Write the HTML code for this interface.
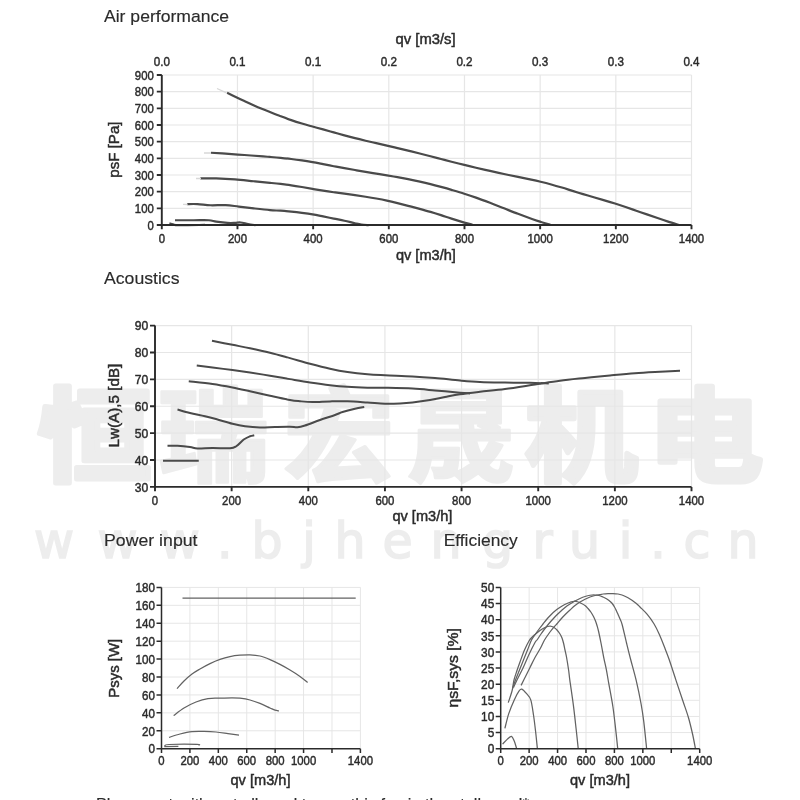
<!DOCTYPE html>
<html lang="en"><head><meta charset="utf-8"><title>Fan curves</title>
<style>html,body{margin:0;padding:0;background:#fff}body{width:800px;height:800px;overflow:hidden}svg{display:block}text{font-family:'Liberation Sans', sans-serif}.wm{font-family:'Liberation Sans','Noto Sans CJK SC',sans-serif;font-weight:700}.wu{font-family:'DejaVu Sans','Liberation Sans',sans-serif}</style></head><body>
<svg width="800" height="800" viewBox="0 0 800 800">
<rect width="800" height="800" fill="#fff"/><g opacity="0.999">
<text class="wm" y="473.6" font-size="103" fill="#ededed" stroke="#ededed" stroke-linejoin="round"><tspan x="37.4" textLength="114.4" lengthAdjust="spacingAndGlyphs" stroke-width="5">恒</tspan><tspan x="157.4" textLength="112.0" lengthAdjust="spacingAndGlyphs" stroke-width="2.5">瑞</tspan><tspan x="282.7" textLength="112.2" lengthAdjust="spacingAndGlyphs" stroke-width="3">宏</tspan><tspan x="406.0" textLength="109.1" lengthAdjust="spacingAndGlyphs" stroke-width="2.5">晟</tspan><tspan x="524.5" textLength="113.5" lengthAdjust="spacingAndGlyphs" stroke-width="4.5">机</tspan><tspan x="647.4" textLength="115.8" lengthAdjust="spacingAndGlyphs" stroke-width="5">电</tspan></text>
<text class="wu" x="34.0 97.5 159.7 216.9 251.4 302.2 334.5 382.6 430.5 481.9 532.4 569.0 618.7 650.2 683.5 727.5" y="558" font-size="49" fill="#ededed" stroke="#ededed" stroke-width="1.6">www.bjhengrui.cn</text>
<text x="104" y="22.3" font-size="17" textLength="125" lengthAdjust="spacingAndGlyphs" fill="#2b2b2b" stroke="#2b2b2b" stroke-width="0.15">Air performance</text>
<text x="104" y="284.4" font-size="17" textLength="75.5" lengthAdjust="spacingAndGlyphs" fill="#2b2b2b" stroke="#2b2b2b" stroke-width="0.15">Acoustics</text>
<text x="104" y="545.7" font-size="17" textLength="93.5" lengthAdjust="spacingAndGlyphs" fill="#2b2b2b" stroke="#2b2b2b" stroke-width="0.15">Power input</text>
<text x="443.7" y="545.7" font-size="17" textLength="74" lengthAdjust="spacingAndGlyphs" fill="#2b2b2b" stroke="#2b2b2b" stroke-width="0.15">Efficiency</text>
<path d="M237.47,75.00V225.00M313.14,75.00V225.00M388.81,75.00V225.00M464.49,75.00V225.00M540.16,75.00V225.00M615.83,75.00V225.00M691.50,75.00V225.00M161.80,208.33H691.50M161.80,191.67H691.50M161.80,175.00H691.50M161.80,158.33H691.50M161.80,141.67H691.50M161.80,125.00H691.50M161.80,108.33H691.50M161.80,91.67H691.50M161.80,75.00H691.50" stroke="#e6e6e6" stroke-width="1.2" fill="none"/>
<path d="M227.10,92.75 C228.62,93.49 233.37,95.79 236.25,97.17 C239.13,98.55 241.53,99.69 244.40,101.02 C247.28,102.35 250.38,103.79 253.50,105.17 C256.62,106.55 260.35,108.14 263.10,109.30 C265.85,110.45 267.08,110.94 270.00,112.09 C272.92,113.24 277.06,114.88 280.60,116.22 C284.14,117.55 287.70,118.89 291.25,120.11 C294.80,121.33 298.36,122.46 301.90,123.54 C305.44,124.61 308.97,125.56 312.50,126.54 C316.03,127.52 319.56,128.44 323.10,129.41 C326.64,130.38 330.20,131.38 333.75,132.37 C337.30,133.35 340.86,134.38 344.40,135.34 C347.94,136.30 351.47,137.24 355.00,138.13 C358.53,139.03 362.06,139.87 365.60,140.71 C369.14,141.55 372.70,142.36 376.25,143.18 C379.80,144.00 383.36,144.81 386.90,145.63 C390.44,146.45 393.97,147.26 397.50,148.09 C401.03,148.92 404.56,149.74 408.10,150.60 C411.64,151.46 415.02,152.30 418.75,153.24 C422.48,154.18 426.79,155.31 430.50,156.27 C434.21,157.23 437.50,158.11 441.00,159.01 C444.50,159.92 447.62,160.74 451.50,161.73 C455.38,162.71 460.22,163.93 464.30,164.93 C468.38,165.93 471.72,166.73 476.00,167.73 C480.28,168.73 485.33,169.88 490.00,170.92 C494.67,171.96 499.33,172.97 504.00,173.98 C508.67,174.98 513.67,176.02 518.00,176.93 C522.33,177.84 526.23,178.62 530.00,179.43 C533.77,180.23 537.06,180.93 540.60,181.78 C544.14,182.62 547.70,183.52 551.25,184.48 C554.80,185.45 558.36,186.50 561.90,187.57 C565.44,188.63 568.97,189.77 572.50,190.86 C576.03,191.96 579.56,193.07 583.10,194.14 C586.64,195.21 590.20,196.24 593.75,197.27 C597.30,198.31 600.86,199.29 604.40,200.34 C607.94,201.39 611.47,202.45 615.00,203.57 C618.53,204.69 622.06,205.87 625.60,207.06 C629.14,208.24 632.70,209.48 636.25,210.70 C639.80,211.92 643.36,213.15 646.90,214.38 C650.44,215.61 653.97,216.86 657.50,218.06 C661.03,219.26 664.56,220.45 668.10,221.59 C671.64,222.73 676.98,224.35 678.75,224.90" stroke="#4a4a4a" stroke-width="2.2" fill="none" stroke-linejoin="round"/>
<path d="M211.00,152.75 C213.43,152.90 220.03,153.30 225.60,153.68 C231.17,154.05 238.15,154.56 244.40,155.02 C250.65,155.48 258.83,156.10 263.10,156.42 C267.37,156.74 267.08,156.70 270.00,156.94 C272.92,157.17 277.06,157.49 280.60,157.83 C284.14,158.18 287.70,158.56 291.25,158.99 C294.80,159.43 298.36,159.92 301.90,160.45 C305.44,160.99 308.97,161.58 312.50,162.20 C316.03,162.82 319.56,163.51 323.10,164.18 C326.64,164.85 330.20,165.55 333.75,166.22 C337.30,166.89 340.86,167.54 344.40,168.18 C347.94,168.81 351.47,169.43 355.00,170.04 C358.53,170.65 362.06,171.25 365.60,171.85 C369.14,172.45 372.70,173.04 376.25,173.64 C379.80,174.23 383.36,174.81 386.90,175.40 C390.44,175.99 393.97,176.57 397.50,177.19 C401.03,177.81 404.56,178.42 408.10,179.11 C411.64,179.80 415.02,180.48 418.75,181.32 C422.48,182.15 426.79,183.19 430.50,184.12 C434.21,185.05 437.50,185.95 441.00,186.91 C444.50,187.87 447.62,188.73 451.50,189.86 C455.38,191.00 460.22,192.41 464.30,193.70 C468.38,194.99 471.72,196.09 476.00,197.62 C480.28,199.14 485.33,201.05 490.00,202.83 C494.67,204.62 499.33,206.51 504.00,208.34 C508.67,210.17 513.33,212.05 518.00,213.82 C522.67,215.60 527.92,217.55 532.00,218.99 C536.08,220.42 539.43,221.48 542.50,222.43 C545.57,223.38 549.08,224.32 550.40,224.70" stroke="#4a4a4a" stroke-width="2.2" fill="none" stroke-linejoin="round"/>
<path d="M200.30,178.40 C202.96,178.40 210.47,178.23 216.25,178.40 C222.03,178.57 228.75,178.93 235.00,179.40 C241.25,179.88 247.92,180.68 253.75,181.25 C259.58,181.82 265.52,182.38 270.00,182.83 C274.48,183.28 277.06,183.53 280.60,183.95 C284.14,184.37 287.70,184.82 291.25,185.33 C294.80,185.84 298.36,186.42 301.90,187.00 C305.44,187.59 308.97,188.24 312.50,188.85 C316.03,189.46 319.56,190.09 323.10,190.66 C326.64,191.22 330.20,191.74 333.75,192.24 C337.30,192.73 340.86,193.16 344.40,193.64 C347.94,194.12 351.47,194.59 355.00,195.10 C358.53,195.61 362.06,196.15 365.60,196.72 C369.14,197.29 372.70,197.88 376.25,198.53 C379.80,199.19 383.36,199.88 386.90,200.65 C390.44,201.41 393.97,202.26 397.50,203.12 C401.03,203.99 404.56,204.91 408.10,205.82 C411.64,206.74 415.02,207.60 418.75,208.61 C422.48,209.62 426.79,210.79 430.50,211.89 C434.21,212.98 437.50,214.04 441.00,215.17 C444.50,216.29 447.62,217.41 451.50,218.64 C455.38,219.88 460.80,221.56 464.30,222.57 C467.80,223.58 471.13,224.35 472.50,224.70" stroke="#4a4a4a" stroke-width="2.2" fill="none" stroke-linejoin="round"/>
<path d="M187.20,204.10 C188.92,204.10 193.60,203.91 197.50,204.10 C201.40,204.29 205.92,205.08 210.60,205.25 C215.28,205.42 220.91,204.88 225.60,205.10 C230.29,205.32 234.06,206.05 238.75,206.60 C243.44,207.15 248.54,207.82 253.75,208.40 C258.96,208.98 265.52,209.72 270.00,210.10 C274.48,210.48 277.06,210.45 280.60,210.70 C284.14,210.95 287.70,211.25 291.25,211.60 C294.80,211.95 298.36,212.35 301.90,212.80 C305.44,213.25 308.97,213.70 312.50,214.30 C316.03,214.90 319.56,215.68 323.10,216.40 C326.64,217.12 330.20,217.88 333.75,218.60 C337.30,219.32 340.86,219.93 344.40,220.70 C347.94,221.47 352.17,222.57 355.00,223.20 C357.83,223.83 359.10,224.17 361.40,224.50 C363.70,224.83 367.57,225.08 368.80,225.20" stroke="#4a4a4a" stroke-width="2.2" fill="none" stroke-linejoin="round"/>
<path d="M175.00,220.25 C178.12,220.25 188.12,220.25 193.75,220.25 C199.38,220.25 205.00,220.03 208.75,220.25 C212.50,220.47 213.12,221.16 216.25,221.60 C219.38,222.04 224.38,222.68 227.50,222.90 C230.62,223.12 232.82,222.97 235.00,222.90 C237.18,222.83 238.42,222.32 240.60,222.50 C242.78,222.68 245.60,223.55 248.10,224.00 C250.60,224.45 254.35,225.00 255.60,225.20" stroke="#4a4a4a" stroke-width="2.2" fill="none" stroke-linejoin="round"/>
<path d="M169.40,223.40 C170.02,223.57 171.54,224.10 173.10,224.40 C174.66,224.70 173.43,225.12 178.75,225.20 C184.07,225.28 200.62,224.95 205.00,224.90" stroke="#4a4a4a" stroke-width="2.2" fill="none" stroke-linejoin="round"/>
<path d="M217,88.5L226.5,92.8M204,153H211M196,178.5h5M183,204.3l4.5,.2" stroke="#d8d8d8" stroke-width="1.3" fill="none"/>
<path d="M161.80,75.00V229.30M156.80,225.00H691.50M237.47,225.00v4.3M313.14,225.00v4.3M388.81,225.00v4.3M464.49,225.00v4.3M540.16,225.00v4.3M615.83,225.00v4.3M691.50,225.00v4.3M161.80,208.33h-5M161.80,191.67h-5M161.80,175.00h-5M161.80,158.33h-5M161.80,141.67h-5M161.80,125.00h-5M161.80,108.33h-5M161.80,91.67h-5M161.80,75.00h-5" stroke="#2b2b2b" stroke-width="1.9" fill="none"/>
<text x="153.8" y="229.7" font-size="13" text-anchor="end" textLength="6.3" lengthAdjust="spacingAndGlyphs" fill="#2b2b2b" stroke="#2b2b2b" stroke-width="0.45">0</text>
<text x="153.8" y="213.0" font-size="13" text-anchor="end" textLength="19.0" lengthAdjust="spacingAndGlyphs" fill="#2b2b2b" stroke="#2b2b2b" stroke-width="0.45">100</text>
<text x="153.8" y="196.4" font-size="13" text-anchor="end" textLength="19.0" lengthAdjust="spacingAndGlyphs" fill="#2b2b2b" stroke="#2b2b2b" stroke-width="0.45">200</text>
<text x="153.8" y="179.7" font-size="13" text-anchor="end" textLength="19.0" lengthAdjust="spacingAndGlyphs" fill="#2b2b2b" stroke="#2b2b2b" stroke-width="0.45">300</text>
<text x="153.8" y="163.0" font-size="13" text-anchor="end" textLength="19.0" lengthAdjust="spacingAndGlyphs" fill="#2b2b2b" stroke="#2b2b2b" stroke-width="0.45">400</text>
<text x="153.8" y="146.4" font-size="13" text-anchor="end" textLength="19.0" lengthAdjust="spacingAndGlyphs" fill="#2b2b2b" stroke="#2b2b2b" stroke-width="0.45">500</text>
<text x="153.8" y="129.7" font-size="13" text-anchor="end" textLength="19.0" lengthAdjust="spacingAndGlyphs" fill="#2b2b2b" stroke="#2b2b2b" stroke-width="0.45">600</text>
<text x="153.8" y="113.0" font-size="13" text-anchor="end" textLength="19.0" lengthAdjust="spacingAndGlyphs" fill="#2b2b2b" stroke="#2b2b2b" stroke-width="0.45">700</text>
<text x="153.8" y="96.4" font-size="13" text-anchor="end" textLength="19.0" lengthAdjust="spacingAndGlyphs" fill="#2b2b2b" stroke="#2b2b2b" stroke-width="0.45">800</text>
<text x="153.8" y="79.7" font-size="13" text-anchor="end" textLength="19.0" lengthAdjust="spacingAndGlyphs" fill="#2b2b2b" stroke="#2b2b2b" stroke-width="0.45">900</text>
<text x="161.8" y="242.7" font-size="13" text-anchor="middle" textLength="6.3" lengthAdjust="spacingAndGlyphs" fill="#2b2b2b" stroke="#2b2b2b" stroke-width="0.45">0</text>
<text x="237.5" y="242.7" font-size="13" text-anchor="middle" textLength="19.0" lengthAdjust="spacingAndGlyphs" fill="#2b2b2b" stroke="#2b2b2b" stroke-width="0.45">200</text>
<text x="313.1" y="242.7" font-size="13" text-anchor="middle" textLength="19.0" lengthAdjust="spacingAndGlyphs" fill="#2b2b2b" stroke="#2b2b2b" stroke-width="0.45">400</text>
<text x="388.8" y="242.7" font-size="13" text-anchor="middle" textLength="19.0" lengthAdjust="spacingAndGlyphs" fill="#2b2b2b" stroke="#2b2b2b" stroke-width="0.45">600</text>
<text x="464.5" y="242.7" font-size="13" text-anchor="middle" textLength="19.0" lengthAdjust="spacingAndGlyphs" fill="#2b2b2b" stroke="#2b2b2b" stroke-width="0.45">800</text>
<text x="540.2" y="242.7" font-size="13" text-anchor="middle" textLength="25.4" lengthAdjust="spacingAndGlyphs" fill="#2b2b2b" stroke="#2b2b2b" stroke-width="0.45">1000</text>
<text x="615.8" y="242.7" font-size="13" text-anchor="middle" textLength="25.4" lengthAdjust="spacingAndGlyphs" fill="#2b2b2b" stroke="#2b2b2b" stroke-width="0.45">1200</text>
<text x="691.5" y="242.7" font-size="13" text-anchor="middle" textLength="25.4" lengthAdjust="spacingAndGlyphs" fill="#2b2b2b" stroke="#2b2b2b" stroke-width="0.45">1400</text>
<text x="161.8" y="65.8" font-size="13" text-anchor="middle" textLength="16.2" lengthAdjust="spacingAndGlyphs" fill="#2b2b2b" stroke="#2b2b2b" stroke-width="0.45">0.0</text>
<text x="237.5" y="65.8" font-size="13" text-anchor="middle" textLength="16.2" lengthAdjust="spacingAndGlyphs" fill="#2b2b2b" stroke="#2b2b2b" stroke-width="0.45">0.1</text>
<text x="313.1" y="65.8" font-size="13" text-anchor="middle" textLength="16.2" lengthAdjust="spacingAndGlyphs" fill="#2b2b2b" stroke="#2b2b2b" stroke-width="0.45">0.1</text>
<text x="388.8" y="65.8" font-size="13" text-anchor="middle" textLength="16.2" lengthAdjust="spacingAndGlyphs" fill="#2b2b2b" stroke="#2b2b2b" stroke-width="0.45">0.2</text>
<text x="464.5" y="65.8" font-size="13" text-anchor="middle" textLength="16.2" lengthAdjust="spacingAndGlyphs" fill="#2b2b2b" stroke="#2b2b2b" stroke-width="0.45">0.2</text>
<text x="540.2" y="65.8" font-size="13" text-anchor="middle" textLength="16.2" lengthAdjust="spacingAndGlyphs" fill="#2b2b2b" stroke="#2b2b2b" stroke-width="0.45">0.3</text>
<text x="615.8" y="65.8" font-size="13" text-anchor="middle" textLength="16.2" lengthAdjust="spacingAndGlyphs" fill="#2b2b2b" stroke="#2b2b2b" stroke-width="0.45">0.3</text>
<text x="691.5" y="65.8" font-size="13" text-anchor="middle" textLength="16.2" lengthAdjust="spacingAndGlyphs" fill="#2b2b2b" stroke="#2b2b2b" stroke-width="0.45">0.4</text>
<text x="425.6" y="44.1" font-size="14" text-anchor="middle" textLength="60" lengthAdjust="spacingAndGlyphs" fill="#2b2b2b" stroke="#2b2b2b" stroke-width="0.45">qv [m3/s]</text>
<text x="425.9" y="259.9" font-size="14" text-anchor="middle" textLength="60" lengthAdjust="spacingAndGlyphs" fill="#2b2b2b" stroke="#2b2b2b" stroke-width="0.45">qv [m3/h]</text>
<text transform="translate(119,149.6) rotate(-90)" font-size="14" text-anchor="middle" textLength="56.3" lengthAdjust="spacingAndGlyphs" fill="#2b2b2b" stroke="#2b2b2b" stroke-width="0.45">psF [Pa]</text>
<path d="M231.64,325.60V486.90M308.29,325.60V486.90M384.93,325.60V486.90M461.57,325.60V486.90M538.21,325.60V486.90M614.86,325.60V486.90M691.50,325.60V486.90M155.00,460.02H691.50M155.00,433.13H691.50M155.00,406.25H691.50M155.00,379.37H691.50M155.00,352.48H691.50M155.00,325.60H691.50" stroke="#e6e6e6" stroke-width="1.2" fill="none"/>
<path d="M212.00,340.75 C215.42,341.43 226.17,343.58 232.50,344.83 C238.83,346.08 243.75,346.93 250.00,348.25 C256.25,349.57 263.33,351.10 270.00,352.75 C276.67,354.40 283.33,356.30 290.00,358.12 C296.67,359.95 303.33,361.94 310.00,363.70 C316.67,365.46 323.75,367.29 330.00,368.67 C336.25,370.05 341.25,371.04 347.50,371.98 C353.75,372.92 361.25,373.75 367.50,374.30 C373.75,374.85 377.50,374.94 385.00,375.29 C392.50,375.65 404.17,375.98 412.50,376.44 C420.83,376.90 427.08,377.39 435.00,378.07 C442.92,378.74 452.50,379.85 460.00,380.50 C467.50,381.15 472.50,381.61 480.00,381.94 C487.50,382.28 496.67,382.38 505.00,382.52 C513.33,382.67 522.71,382.66 530.00,382.81 C537.29,382.95 545.62,383.30 548.75,383.40" stroke="#4a4a4a" stroke-width="2" fill="none" stroke-linejoin="round"/>
<path d="M196.75,365.50 C199.38,365.83 206.54,366.73 212.50,367.49 C218.46,368.26 226.25,369.24 232.50,370.08 C238.75,370.92 243.75,371.60 250.00,372.53 C256.25,373.47 263.33,374.59 270.00,375.69 C276.67,376.79 283.33,378.00 290.00,379.12 C296.67,380.25 303.33,381.43 310.00,382.44 C316.67,383.45 323.75,384.47 330.00,385.20 C336.25,385.93 341.25,386.42 347.50,386.83 C353.75,387.24 361.25,387.50 367.50,387.66 C373.75,387.82 377.50,387.64 385.00,387.80 C392.50,387.96 404.17,388.16 412.50,388.60 C420.83,389.04 427.08,389.74 435.00,390.43 C442.92,391.13 454.17,392.29 460.00,392.79 C465.83,393.28 468.33,393.30 470.00,393.40" stroke="#4a4a4a" stroke-width="2" fill="none" stroke-linejoin="round"/>
<path d="M188.75,381.25 C192.71,381.71 205.21,382.96 212.50,384.00 C219.79,385.04 226.25,386.29 232.50,387.50 C238.75,388.71 243.75,389.88 250.00,391.25 C256.25,392.62 263.33,394.29 270.00,395.75 C276.67,397.21 285.00,399.08 290.00,400.00 C295.00,400.92 296.25,400.92 300.00,401.25 C303.75,401.58 307.50,401.98 312.50,402.00 C317.50,402.02 324.17,401.52 330.00,401.40 C335.83,401.28 341.25,401.12 347.50,401.30 C353.75,401.48 361.25,402.09 367.50,402.50 C373.75,402.91 379.58,403.58 385.00,403.75 C390.42,403.92 395.42,403.71 400.00,403.50 C404.58,403.29 407.50,403.08 412.50,402.50 C417.50,401.92 424.58,400.92 430.00,400.00 C435.42,399.08 440.00,397.96 445.00,397.00 C450.00,396.04 454.17,395.12 460.00,394.25 C465.83,393.38 472.50,392.62 480.00,391.75 C487.50,390.88 495.83,390.21 505.00,389.00 C514.17,387.79 525.83,385.88 535.00,384.50 C544.17,383.12 551.67,381.83 560.00,380.75 C568.33,379.67 576.67,378.88 585.00,378.00 C593.33,377.12 601.67,376.29 610.00,375.50 C618.33,374.71 626.67,373.88 635.00,373.25 C643.33,372.62 652.50,372.17 660.00,371.75 C667.50,371.33 676.67,370.92 680.00,370.75" stroke="#4a4a4a" stroke-width="2" fill="none" stroke-linejoin="round"/>
<path d="M177.50,409.50 C179.58,410.08 185.42,411.88 190.00,413.00 C194.58,414.12 200.42,415.17 205.00,416.25 C209.58,417.33 212.92,418.25 217.50,419.50 C222.08,420.75 227.92,422.62 232.50,423.75 C237.08,424.88 240.42,425.62 245.00,426.25 C249.58,426.88 255.00,427.38 260.00,427.50 C265.00,427.62 270.00,427.12 275.00,427.00 C280.00,426.88 286.25,426.70 290.00,426.75 C293.75,426.80 295.00,427.51 297.50,427.30 C300.00,427.09 301.25,426.72 305.00,425.50 C308.75,424.28 315.00,421.75 320.00,420.00 C325.00,418.25 331.25,416.33 335.00,415.00 C338.75,413.67 339.17,413.04 342.50,412.00 C345.83,410.96 351.38,409.58 355.00,408.75 C358.62,407.92 362.71,407.29 364.25,407.00" stroke="#4a4a4a" stroke-width="2" fill="none" stroke-linejoin="round"/>
<path d="M167.50,445.75 C169.17,445.75 173.75,445.54 177.50,445.75 C181.25,445.96 186.67,446.54 190.00,447.00 C193.33,447.46 193.75,448.33 197.50,448.50 C201.25,448.67 207.08,448.04 212.50,448.00 C217.92,447.96 226.04,448.54 230.00,448.25 C233.96,447.96 233.96,447.71 236.25,446.25 C238.54,444.79 241.46,441.17 243.75,439.50 C246.04,437.83 248.25,436.96 250.00,436.25 C251.75,435.54 253.54,435.42 254.25,435.25" stroke="#4a4a4a" stroke-width="2" fill="none" stroke-linejoin="round"/>
<path d="M163.00,460.75 L198.75,460.75" stroke="#4a4a4a" stroke-width="2" fill="none" stroke-linejoin="round"/>
<path d="M155.00,325.60V491.20M150.00,486.90H691.50M231.64,486.90v4.3M308.29,486.90v4.3M384.93,486.90v4.3M461.57,486.90v4.3M538.21,486.90v4.3M614.86,486.90v4.3M691.50,486.90v4.3M155.00,460.02h-5M155.00,433.13h-5M155.00,406.25h-5M155.00,379.37h-5M155.00,352.48h-5M155.00,325.60h-5" stroke="#2b2b2b" stroke-width="1.9" fill="none"/>
<text x="148.3" y="491.6" font-size="13" text-anchor="end" textLength="13.5" lengthAdjust="spacingAndGlyphs" fill="#2b2b2b" stroke="#2b2b2b" stroke-width="0.45">30</text>
<text x="148.3" y="464.7" font-size="13" text-anchor="end" textLength="13.5" lengthAdjust="spacingAndGlyphs" fill="#2b2b2b" stroke="#2b2b2b" stroke-width="0.45">40</text>
<text x="148.3" y="437.8" font-size="13" text-anchor="end" textLength="13.5" lengthAdjust="spacingAndGlyphs" fill="#2b2b2b" stroke="#2b2b2b" stroke-width="0.45">50</text>
<text x="148.3" y="410.9" font-size="13" text-anchor="end" textLength="13.5" lengthAdjust="spacingAndGlyphs" fill="#2b2b2b" stroke="#2b2b2b" stroke-width="0.45">60</text>
<text x="148.3" y="384.1" font-size="13" text-anchor="end" textLength="13.5" lengthAdjust="spacingAndGlyphs" fill="#2b2b2b" stroke="#2b2b2b" stroke-width="0.45">70</text>
<text x="148.3" y="357.2" font-size="13" text-anchor="end" textLength="13.5" lengthAdjust="spacingAndGlyphs" fill="#2b2b2b" stroke="#2b2b2b" stroke-width="0.45">80</text>
<text x="148.3" y="330.3" font-size="13" text-anchor="end" textLength="13.5" lengthAdjust="spacingAndGlyphs" fill="#2b2b2b" stroke="#2b2b2b" stroke-width="0.45">90</text>
<text x="155.0" y="504.7" font-size="13" text-anchor="middle" textLength="6.3" lengthAdjust="spacingAndGlyphs" fill="#2b2b2b" stroke="#2b2b2b" stroke-width="0.45">0</text>
<text x="231.6" y="504.7" font-size="13" text-anchor="middle" textLength="19.0" lengthAdjust="spacingAndGlyphs" fill="#2b2b2b" stroke="#2b2b2b" stroke-width="0.45">200</text>
<text x="308.3" y="504.7" font-size="13" text-anchor="middle" textLength="19.0" lengthAdjust="spacingAndGlyphs" fill="#2b2b2b" stroke="#2b2b2b" stroke-width="0.45">400</text>
<text x="384.9" y="504.7" font-size="13" text-anchor="middle" textLength="19.0" lengthAdjust="spacingAndGlyphs" fill="#2b2b2b" stroke="#2b2b2b" stroke-width="0.45">600</text>
<text x="461.6" y="504.7" font-size="13" text-anchor="middle" textLength="19.0" lengthAdjust="spacingAndGlyphs" fill="#2b2b2b" stroke="#2b2b2b" stroke-width="0.45">800</text>
<text x="538.2" y="504.7" font-size="13" text-anchor="middle" textLength="25.4" lengthAdjust="spacingAndGlyphs" fill="#2b2b2b" stroke="#2b2b2b" stroke-width="0.45">1000</text>
<text x="614.9" y="504.7" font-size="13" text-anchor="middle" textLength="25.4" lengthAdjust="spacingAndGlyphs" fill="#2b2b2b" stroke="#2b2b2b" stroke-width="0.45">1200</text>
<text x="691.5" y="504.7" font-size="13" text-anchor="middle" textLength="25.4" lengthAdjust="spacingAndGlyphs" fill="#2b2b2b" stroke="#2b2b2b" stroke-width="0.45">1400</text>
<text x="422.4" y="521.4" font-size="14" text-anchor="middle" textLength="60" lengthAdjust="spacingAndGlyphs" fill="#2b2b2b" stroke="#2b2b2b" stroke-width="0.45">qv [m3/h]</text>
<text transform="translate(119,405.6) rotate(-90)" font-size="14" text-anchor="middle" textLength="83.7" lengthAdjust="spacingAndGlyphs" fill="#2b2b2b" stroke="#2b2b2b" stroke-width="0.45">Lw(A),5 [dB]</text>
<path d="M189.91,587.40V748.70M218.33,587.40V748.70M246.74,587.40V748.70M275.16,587.40V748.70M303.57,587.40V748.70M331.99,587.40V748.70M360.40,587.40V748.70M161.50,730.78H360.40M161.50,712.86H360.40M161.50,694.93H360.40M161.50,677.01H360.40M161.50,659.09H360.40M161.50,641.17H360.40M161.50,623.24H360.40M161.50,605.32H360.40M161.50,587.40H360.40" stroke="#e6e6e6" stroke-width="1.0" fill="none"/>
<path d="M182.50,598.20 L355.70,598.20" stroke="#626262" stroke-width="1.25" fill="none"/>
<path d="M177.00,688.60 C178.17,687.33 181.50,683.43 184.00,681.00 C186.50,678.57 189.33,676.00 192.00,674.00 C194.67,672.00 197.00,670.73 200.00,669.00 C203.00,667.27 206.67,665.20 210.00,663.60 C213.33,662.00 216.67,660.57 220.00,659.40 C223.33,658.23 226.67,657.30 230.00,656.60 C233.33,655.90 236.67,655.50 240.00,655.20 C243.33,654.90 246.67,654.67 250.00,654.80 C253.33,654.93 256.67,655.20 260.00,656.00 C263.33,656.80 266.67,658.20 270.00,659.60 C273.33,661.00 276.67,662.67 280.00,664.40 C283.33,666.13 286.67,668.00 290.00,670.00 C293.33,672.00 297.07,674.33 300.00,676.40 C302.93,678.47 306.33,681.40 307.60,682.40" stroke="#626262" stroke-width="1.25" fill="none"/>
<path d="M173.60,715.60 C175.33,714.33 180.27,710.27 184.00,708.00 C187.73,705.73 192.00,703.57 196.00,702.00 C200.00,700.43 204.00,699.23 208.00,698.60 C212.00,697.97 216.00,698.33 220.00,698.20 C224.00,698.07 228.67,697.80 232.00,697.80 C235.33,697.80 237.00,697.83 240.00,698.20 C243.00,698.57 246.67,699.13 250.00,700.00 C253.33,700.87 256.67,702.07 260.00,703.40 C263.33,704.73 267.50,706.87 270.00,708.00 C272.50,709.13 273.50,709.70 275.00,710.20 C276.50,710.70 278.33,710.87 279.00,711.00" stroke="#626262" stroke-width="1.25" fill="none"/>
<path d="M169.00,737.40 C170.83,736.83 176.17,734.97 180.00,734.00 C183.83,733.03 188.00,732.03 192.00,731.60 C196.00,731.17 200.00,731.33 204.00,731.40 C208.00,731.47 212.00,731.63 216.00,732.00 C220.00,732.37 224.17,733.07 228.00,733.60 C231.83,734.13 237.17,734.93 239.00,735.20" stroke="#626262" stroke-width="1.25" fill="none"/>
<path d="M164.40,746.20 C165.17,745.92 163.57,744.82 169.00,744.50 C174.43,744.18 192.07,744.17 197.00,744.30 C201.93,744.43 198.33,745.13 198.60,745.30" stroke="#626262" stroke-width="1.25" fill="none"/>
<path d="M164.40,746.60 L178.40,746.40" stroke="#626262" stroke-width="1.25" fill="none"/>
<path d="M161.50,587.40V753.00M156.50,748.70H360.40M189.91,748.70v4.3M218.33,748.70v4.3M246.74,748.70v4.3M275.16,748.70v4.3M303.57,748.70v4.3M331.99,748.70v4.3M360.40,748.70v4.3M161.50,730.78h-5M161.50,712.86h-5M161.50,694.93h-5M161.50,677.01h-5M161.50,659.09h-5M161.50,641.17h-5M161.50,623.24h-5M161.50,605.32h-5M161.50,587.40h-5" stroke="#2b2b2b" stroke-width="1.5" fill="none"/>
<text x="155.0" y="753.4" font-size="13" text-anchor="end" textLength="6.5" lengthAdjust="spacingAndGlyphs" fill="#2b2b2b" stroke="#2b2b2b" stroke-width="0.45">0</text>
<text x="155.0" y="735.5" font-size="13" text-anchor="end" textLength="12.9" lengthAdjust="spacingAndGlyphs" fill="#2b2b2b" stroke="#2b2b2b" stroke-width="0.45">20</text>
<text x="155.0" y="717.6" font-size="13" text-anchor="end" textLength="12.9" lengthAdjust="spacingAndGlyphs" fill="#2b2b2b" stroke="#2b2b2b" stroke-width="0.45">40</text>
<text x="155.0" y="699.6" font-size="13" text-anchor="end" textLength="12.9" lengthAdjust="spacingAndGlyphs" fill="#2b2b2b" stroke="#2b2b2b" stroke-width="0.45">60</text>
<text x="155.0" y="681.7" font-size="13" text-anchor="end" textLength="12.9" lengthAdjust="spacingAndGlyphs" fill="#2b2b2b" stroke="#2b2b2b" stroke-width="0.45">80</text>
<text x="155.0" y="663.8" font-size="13" text-anchor="end" textLength="19.4" lengthAdjust="spacingAndGlyphs" fill="#2b2b2b" stroke="#2b2b2b" stroke-width="0.45">100</text>
<text x="155.0" y="645.9" font-size="13" text-anchor="end" textLength="19.4" lengthAdjust="spacingAndGlyphs" fill="#2b2b2b" stroke="#2b2b2b" stroke-width="0.45">120</text>
<text x="155.0" y="627.9" font-size="13" text-anchor="end" textLength="19.4" lengthAdjust="spacingAndGlyphs" fill="#2b2b2b" stroke="#2b2b2b" stroke-width="0.45">140</text>
<text x="155.0" y="610.0" font-size="13" text-anchor="end" textLength="19.4" lengthAdjust="spacingAndGlyphs" fill="#2b2b2b" stroke="#2b2b2b" stroke-width="0.45">160</text>
<text x="155.0" y="592.1" font-size="13" text-anchor="end" textLength="19.4" lengthAdjust="spacingAndGlyphs" fill="#2b2b2b" stroke="#2b2b2b" stroke-width="0.45">180</text>
<text x="161.5" y="765.3" font-size="13" text-anchor="middle" textLength="6.3" lengthAdjust="spacingAndGlyphs" fill="#2b2b2b" stroke="#2b2b2b" stroke-width="0.45">0</text>
<text x="189.9" y="765.3" font-size="13" text-anchor="middle" textLength="18.9" lengthAdjust="spacingAndGlyphs" fill="#2b2b2b" stroke="#2b2b2b" stroke-width="0.45">200</text>
<text x="218.3" y="765.3" font-size="13" text-anchor="middle" textLength="18.9" lengthAdjust="spacingAndGlyphs" fill="#2b2b2b" stroke="#2b2b2b" stroke-width="0.45">400</text>
<text x="246.7" y="765.3" font-size="13" text-anchor="middle" textLength="18.9" lengthAdjust="spacingAndGlyphs" fill="#2b2b2b" stroke="#2b2b2b" stroke-width="0.45">600</text>
<text x="275.2" y="765.3" font-size="13" text-anchor="middle" textLength="18.9" lengthAdjust="spacingAndGlyphs" fill="#2b2b2b" stroke="#2b2b2b" stroke-width="0.45">800</text>
<text x="303.6" y="765.3" font-size="13" text-anchor="middle" textLength="25.2" lengthAdjust="spacingAndGlyphs" fill="#2b2b2b" stroke="#2b2b2b" stroke-width="0.45">1000</text>
<text x="360.4" y="765.3" font-size="13" text-anchor="middle" textLength="25.2" lengthAdjust="spacingAndGlyphs" fill="#2b2b2b" stroke="#2b2b2b" stroke-width="0.45">1400</text>
<text x="260.5" y="784.6" font-size="14" text-anchor="middle" textLength="60" lengthAdjust="spacingAndGlyphs" fill="#2b2b2b" stroke="#2b2b2b" stroke-width="0.45">qv [m3/h]</text>
<text transform="translate(118.9,668.3) rotate(-90)" font-size="14" text-anchor="middle" textLength="58.9" lengthAdjust="spacingAndGlyphs" fill="#2b2b2b" stroke="#2b2b2b" stroke-width="0.45">Psys [W]</text>
<path d="M529.13,587.40V748.70M557.56,587.40V748.70M585.99,587.40V748.70M614.41,587.40V748.70M642.84,587.40V748.70M671.27,587.40V748.70M699.70,587.40V748.70M500.70,732.57H699.70M500.70,716.44H699.70M500.70,700.31H699.70M500.70,684.18H699.70M500.70,668.05H699.70M500.70,651.92H699.70M500.70,635.79H699.70M500.70,619.66H699.70M500.70,603.53H699.70M500.70,587.40H699.70" stroke="#e6e6e6" stroke-width="1.0" fill="none"/>
<path d="M521.10,685.40 C521.54,684.50 522.31,682.90 523.75,680.00 C525.19,677.10 527.88,671.75 529.75,668.00 C531.62,664.25 533.25,660.75 535.00,657.50 C536.75,654.25 538.67,651.42 540.25,648.50 C541.83,645.58 542.88,642.75 544.50,640.00 C546.12,637.25 548.42,634.17 550.00,632.00 C551.58,629.83 552.79,628.42 554.00,627.00 C555.21,625.58 556.08,624.83 557.25,623.50 C558.42,622.17 559.71,620.46 561.00,619.00 C562.29,617.54 563.50,616.25 565.00,614.75 C566.50,613.25 568.33,611.54 570.00,610.00 C571.67,608.46 573.33,606.83 575.00,605.50 C576.67,604.17 578.33,603.04 580.00,602.00 C581.67,600.96 583.33,600.08 585.00,599.25 C586.67,598.42 588.33,597.62 590.00,597.00 C591.67,596.38 593.33,595.90 595.00,595.50 C596.67,595.10 598.67,594.85 600.00,594.60 C601.33,594.35 601.67,594.17 603.00,594.00 C604.33,593.83 606.33,593.67 608.00,593.60 C609.67,593.53 611.33,593.53 613.00,593.60 C614.67,593.67 616.50,593.77 618.00,594.00 C619.50,594.23 620.67,594.54 622.00,595.00 C623.33,595.46 624.67,596.08 626.00,596.75 C627.33,597.42 628.67,598.17 630.00,599.00 C631.33,599.83 632.67,600.75 634.00,601.75 C635.33,602.75 637.00,604.12 638.00,605.00 C639.00,605.88 638.46,605.43 640.00,607.00 C641.54,608.57 644.90,611.57 647.25,614.40 C649.60,617.23 652.04,620.57 654.10,624.00 C656.16,627.43 657.77,630.88 659.60,635.00 C661.43,639.12 663.49,644.62 665.10,648.75 C666.71,652.88 667.42,654.44 669.25,659.75 C671.08,665.06 673.81,673.68 676.10,680.60 C678.39,687.52 680.93,695.06 683.00,701.25 C685.07,707.44 686.90,712.25 688.50,717.75 C690.10,723.25 691.45,729.14 692.60,734.25 C693.75,739.36 694.93,746.04 695.40,748.40" stroke="#626262" stroke-width="1.25" fill="none"/>
<path d="M513.50,687.50 C514.08,686.25 515.42,683.25 517.00,680.00 C518.58,676.75 521.00,672.25 523.00,668.00 C525.00,663.75 527.00,658.75 529.00,654.50 C531.00,650.25 533.67,644.92 535.00,642.50 C536.33,640.08 536.00,641.42 537.00,640.00 C538.00,638.58 539.67,635.92 541.00,634.00 C542.33,632.08 543.67,630.25 545.00,628.50 C546.33,626.75 547.67,625.08 549.00,623.50 C550.33,621.92 551.62,620.50 553.00,619.00 C554.38,617.50 555.92,615.83 557.25,614.50 C558.58,613.17 559.71,612.17 561.00,611.00 C562.29,609.83 563.50,608.67 565.00,607.50 C566.50,606.33 568.33,605.08 570.00,604.00 C571.67,602.92 573.33,601.92 575.00,601.00 C576.67,600.08 578.33,599.25 580.00,598.50 C581.67,597.75 583.33,597.04 585.00,596.50 C586.67,595.96 588.33,595.50 590.00,595.25 C591.67,595.00 593.50,594.96 595.00,595.00 C596.50,595.04 597.67,595.17 599.00,595.50 C600.33,595.83 601.83,596.50 603.00,597.00 C604.17,597.50 605.00,597.92 606.00,598.50 C607.00,599.08 608.00,599.71 609.00,600.50 C610.00,601.29 611.08,602.17 612.00,603.25 C612.92,604.33 613.75,605.71 614.50,607.00 C615.25,608.29 615.83,609.58 616.50,611.00 C617.17,612.42 617.83,614.00 618.50,615.50 C619.17,617.00 619.88,618.42 620.50,620.00 C621.12,621.58 621.23,621.12 622.25,625.00 C623.27,628.88 625.24,637.67 626.60,643.25 C627.96,648.83 628.79,652.27 630.40,658.50 C632.01,664.73 634.47,673.02 636.25,680.60 C638.03,688.18 639.84,697.12 641.10,704.00 C642.36,710.88 642.88,714.50 643.80,721.90 C644.72,729.30 646.13,743.98 646.60,748.40" stroke="#626262" stroke-width="1.25" fill="none"/>
<path d="M512.50,688.50 C513.00,687.08 514.00,683.92 515.50,680.00 C517.00,676.08 519.50,670.00 521.50,665.00 C523.50,660.00 525.83,654.17 527.50,650.00 C529.17,645.83 530.17,642.67 531.50,640.00 C532.83,637.33 534.17,635.92 535.50,634.00 C536.83,632.08 538.25,630.17 539.50,628.50 C540.75,626.83 541.75,625.58 543.00,624.00 C544.25,622.42 545.67,620.54 547.00,619.00 C548.33,617.46 549.67,616.08 551.00,614.75 C552.33,613.42 553.67,612.12 555.00,611.00 C556.33,609.88 557.67,608.92 559.00,608.00 C560.33,607.08 561.67,606.25 563.00,605.50 C564.33,604.75 565.83,604.04 567.00,603.50 C568.17,602.96 568.83,602.62 570.00,602.25 C571.17,601.88 572.75,601.33 574.00,601.25 C575.25,601.17 576.33,601.42 577.50,601.75 C578.67,602.08 579.75,602.62 581.00,603.25 C582.25,603.88 583.83,604.62 585.00,605.50 C586.17,606.38 587.00,607.38 588.00,608.50 C589.00,609.62 590.08,610.92 591.00,612.25 C591.92,613.58 592.75,615.04 593.50,616.50 C594.25,617.96 594.92,619.50 595.50,621.00 C596.08,622.50 596.48,623.75 597.00,625.50 C597.52,627.25 597.90,628.42 598.60,631.50 C599.30,634.58 600.32,639.52 601.20,644.00 C602.08,648.48 603.05,654.17 603.90,658.40 C604.75,662.63 605.49,665.23 606.30,669.40 C607.11,673.57 607.65,677.17 608.75,683.40 C609.85,689.62 611.76,699.19 612.90,706.75 C614.04,714.31 614.80,721.81 615.60,728.75 C616.40,735.69 617.35,745.12 617.70,748.40" stroke="#626262" stroke-width="1.25" fill="none"/>
<path d="M508.30,702.60 C508.95,700.54 511.25,694.02 512.20,690.25 C513.15,686.48 513.20,683.29 514.00,680.00 C514.80,676.71 516.00,673.50 517.00,670.50 C518.00,667.50 518.75,665.42 520.00,662.00 C521.25,658.58 523.00,653.50 524.50,650.00 C526.00,646.50 527.75,643.13 529.00,641.00 C530.25,638.87 531.00,638.28 532.00,637.20 C533.00,636.12 533.67,635.62 535.00,634.50 C536.33,633.38 538.33,631.67 540.00,630.50 C541.67,629.33 543.50,628.21 545.00,627.50 C546.50,626.79 548.00,626.46 549.00,626.25 C550.00,626.04 550.17,626.04 551.00,626.25 C551.83,626.46 553.00,626.88 554.00,627.50 C555.00,628.12 556.00,628.92 557.00,630.00 C558.00,631.08 559.17,632.67 560.00,634.00 C560.83,635.33 561.42,636.50 562.00,638.00 C562.58,639.50 563.00,641.00 563.50,643.00 C564.00,645.00 564.50,647.67 565.00,650.00 C565.50,652.33 565.90,653.67 566.50,657.00 C567.10,660.33 568.03,666.07 568.60,670.00 C569.17,673.93 569.10,674.70 569.90,680.60 C570.70,686.50 572.37,697.38 573.40,705.40 C574.43,713.42 575.30,721.58 576.10,728.75 C576.90,735.92 577.85,745.12 578.20,748.40" stroke="#626262" stroke-width="1.25" fill="none"/>
<path d="M504.90,728.30 C505.54,725.85 507.19,718.33 508.75,713.60 C510.31,708.87 512.52,703.68 514.25,699.90 C515.98,696.12 517.84,692.70 519.10,690.90 C520.36,689.10 520.55,688.63 521.80,689.10 C523.05,689.57 525.11,691.90 526.60,693.70 C528.09,695.50 529.60,696.35 530.75,699.90 C531.90,703.45 532.69,709.73 533.50,715.00 C534.31,720.27 534.96,725.93 535.60,731.50 C536.24,737.07 537.06,745.58 537.35,748.40" stroke="#626262" stroke-width="1.25" fill="none"/>
<path d="M502.60,744.10 C503.40,743.27 505.92,740.40 507.40,739.10 C508.88,737.80 510.36,735.97 511.50,736.30 C512.64,736.63 513.40,739.08 514.25,741.10 C515.10,743.12 516.21,747.18 516.60,748.40" stroke="#626262" stroke-width="1.25" fill="none"/>
<path d="M500.70,587.40V753.00M495.70,748.70H699.70M529.13,748.70v4.3M557.56,748.70v4.3M585.99,748.70v4.3M614.41,748.70v4.3M642.84,748.70v4.3M671.27,748.70v4.3M699.70,748.70v4.3M500.70,732.57h-5M500.70,716.44h-5M500.70,700.31h-5M500.70,684.18h-5M500.70,668.05h-5M500.70,651.92h-5M500.70,635.79h-5M500.70,619.66h-5M500.70,603.53h-5M500.70,587.40h-5" stroke="#2b2b2b" stroke-width="1.5" fill="none"/>
<text x="494.3" y="753.4" font-size="13" text-anchor="end" textLength="6.6" lengthAdjust="spacingAndGlyphs" fill="#2b2b2b" stroke="#2b2b2b" stroke-width="0.45">0</text>
<text x="494.3" y="737.3" font-size="13" text-anchor="end" textLength="6.6" lengthAdjust="spacingAndGlyphs" fill="#2b2b2b" stroke="#2b2b2b" stroke-width="0.45">5</text>
<text x="494.3" y="721.1" font-size="13" text-anchor="end" textLength="13.2" lengthAdjust="spacingAndGlyphs" fill="#2b2b2b" stroke="#2b2b2b" stroke-width="0.45">10</text>
<text x="494.3" y="705.0" font-size="13" text-anchor="end" textLength="13.2" lengthAdjust="spacingAndGlyphs" fill="#2b2b2b" stroke="#2b2b2b" stroke-width="0.45">15</text>
<text x="494.3" y="688.9" font-size="13" text-anchor="end" textLength="13.2" lengthAdjust="spacingAndGlyphs" fill="#2b2b2b" stroke="#2b2b2b" stroke-width="0.45">20</text>
<text x="494.3" y="672.8" font-size="13" text-anchor="end" textLength="13.2" lengthAdjust="spacingAndGlyphs" fill="#2b2b2b" stroke="#2b2b2b" stroke-width="0.45">25</text>
<text x="494.3" y="656.6" font-size="13" text-anchor="end" textLength="13.2" lengthAdjust="spacingAndGlyphs" fill="#2b2b2b" stroke="#2b2b2b" stroke-width="0.45">30</text>
<text x="494.3" y="640.5" font-size="13" text-anchor="end" textLength="13.2" lengthAdjust="spacingAndGlyphs" fill="#2b2b2b" stroke="#2b2b2b" stroke-width="0.45">35</text>
<text x="494.3" y="624.4" font-size="13" text-anchor="end" textLength="13.2" lengthAdjust="spacingAndGlyphs" fill="#2b2b2b" stroke="#2b2b2b" stroke-width="0.45">40</text>
<text x="494.3" y="608.2" font-size="13" text-anchor="end" textLength="13.2" lengthAdjust="spacingAndGlyphs" fill="#2b2b2b" stroke="#2b2b2b" stroke-width="0.45">45</text>
<text x="494.3" y="592.1" font-size="13" text-anchor="end" textLength="13.2" lengthAdjust="spacingAndGlyphs" fill="#2b2b2b" stroke="#2b2b2b" stroke-width="0.45">50</text>
<text x="500.7" y="765.3" font-size="13" text-anchor="middle" textLength="6.3" lengthAdjust="spacingAndGlyphs" fill="#2b2b2b" stroke="#2b2b2b" stroke-width="0.45">0</text>
<text x="529.1" y="765.3" font-size="13" text-anchor="middle" textLength="18.9" lengthAdjust="spacingAndGlyphs" fill="#2b2b2b" stroke="#2b2b2b" stroke-width="0.45">200</text>
<text x="557.6" y="765.3" font-size="13" text-anchor="middle" textLength="18.9" lengthAdjust="spacingAndGlyphs" fill="#2b2b2b" stroke="#2b2b2b" stroke-width="0.45">400</text>
<text x="586.0" y="765.3" font-size="13" text-anchor="middle" textLength="18.9" lengthAdjust="spacingAndGlyphs" fill="#2b2b2b" stroke="#2b2b2b" stroke-width="0.45">600</text>
<text x="614.4" y="765.3" font-size="13" text-anchor="middle" textLength="18.9" lengthAdjust="spacingAndGlyphs" fill="#2b2b2b" stroke="#2b2b2b" stroke-width="0.45">800</text>
<text x="642.8" y="765.3" font-size="13" text-anchor="middle" textLength="25.2" lengthAdjust="spacingAndGlyphs" fill="#2b2b2b" stroke="#2b2b2b" stroke-width="0.45">1000</text>
<text x="699.7" y="765.3" font-size="13" text-anchor="middle" textLength="25.2" lengthAdjust="spacingAndGlyphs" fill="#2b2b2b" stroke="#2b2b2b" stroke-width="0.45">1400</text>
<text x="600" y="784.6" font-size="14" text-anchor="middle" textLength="60" lengthAdjust="spacingAndGlyphs" fill="#2b2b2b" stroke="#2b2b2b" stroke-width="0.45">qv [m3/h]</text>
<text transform="translate(458.4,667.8) rotate(-90)" font-size="14" text-anchor="middle" textLength="79.4" lengthAdjust="spacingAndGlyphs" fill="#2b2b2b" stroke="#2b2b2b" stroke-width="0.45">ηsF,sys [%]</text>
<text x="96" y="809.5" font-size="16.5" textLength="433" lengthAdjust="spacingAndGlyphs" fill="#2b2b2b" stroke="#2b2b2b" stroke-width="0.2">Please note: it's not allowed to use this fan in the stall area!*</text>
</g></svg></body></html>
